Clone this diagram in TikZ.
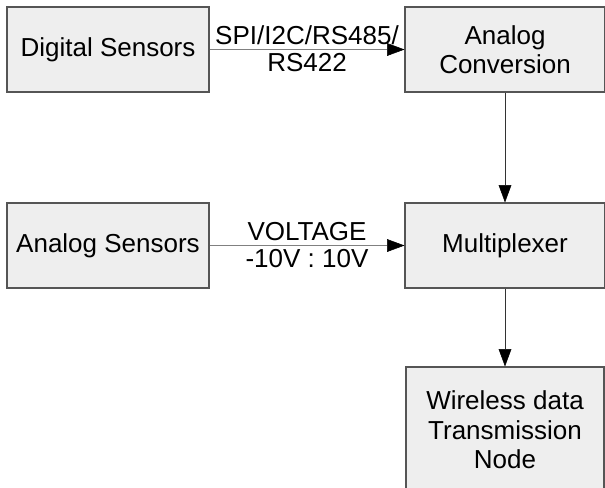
\documentclass[tikz,border=0pt]{standalone}
\usepackage{fontspec}
\setmainfont{Liberation Sans}
\usetikzlibrary{arrows.meta}
\definecolor{boxfill}{HTML}{EEEEEE}
\definecolor{boxline}{HTML}{555555}

\begin{document}
\begin{tikzpicture}[x=0.75pt,y=-0.75pt,
    every node/.style={font=\fontsize{19.5}{22}\selectfont,align=center},
    block/.style={draw=boxline,fill=boxfill,line width=0.8pt,inner sep=0pt,minimum height=63.75pt},
    flow/.style={-{Triangle[length=13pt,width=9.5pt,color=black]}},
    lbl/.style={inner sep=3pt}]
      \useasboundingbox (0,0) rectangle (605,487);
      \node[block,minimum width=151.5pt] (digital) at (108,49.5) {Digital Sensors};
      \node[block,minimum width=150pt] (analogconv) at (505,49.5) {Analog\\Conversion};
      \node[block,minimum width=151.5pt] (analog) at (108,245.5) {Analog Sensors};
      \node[block,minimum width=150pt] (mux) at (505,245.5) {Multiplexer};
      \node[block,minimum width=148.5pt,minimum height=94.5pt] (wireless) at (505,430) {Wireless data\\Transmission\\Node};
      \draw[flow,draw=gray] (digital) -- node[lbl,above] {SPI/I2C/RS485/} node[lbl,below] {RS422} (analogconv);
      \draw[flow,draw=gray] (analog) -- node[lbl,above] {VOLTAGE} node[lbl,below] {-10V : 10V} (mux);
      \draw[flow,draw=black!80] (analogconv) -- (mux);
      \draw[flow,draw=black!80] (mux) -- (wireless);
    \end{tikzpicture}
\end{document}
